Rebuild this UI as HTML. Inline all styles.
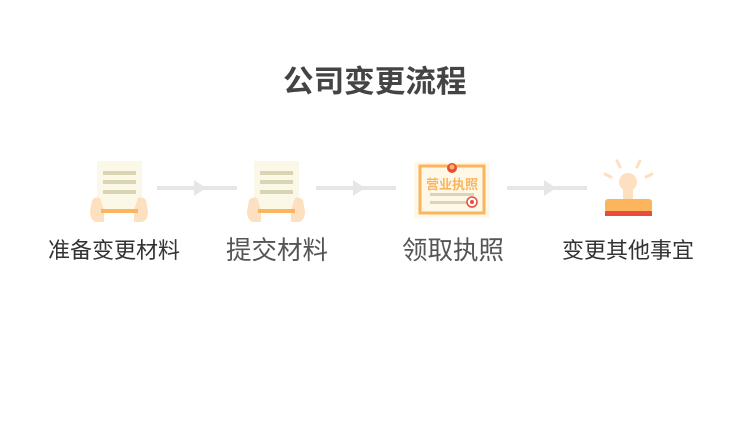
<!DOCTYPE html>
<html><head><meta charset="utf-8"><style>
body{margin:0;width:751px;height:430px;background:#fff;position:relative;overflow:hidden;font-family:"Liberation Sans","Noto Sans CJK SC",sans-serif}
.t{position:absolute;white-space:nowrap;line-height:1}
</style></head><body>
<div class="t" style="left:283px;top:67px;font-size:30.6px;font-weight:bold;color:#444">公司变更流程</div>
<svg width="751" height="430" style="position:absolute;left:0;top:0">
<g id="doc">
<rect x="97" y="161" width="45" height="52" fill="#fcf8e8"/>
<rect x="103" y="171" width="33" height="4" fill="#d8d4b4"/>
<rect x="103" y="180" width="33" height="4" fill="#d8d4b4"/>
<rect x="103" y="190" width="33" height="4" fill="#d8d4b4"/>
<path d="M92 200 Q96 196 100 198 L104 210 L104 222 L96 222 Q90 220 90 212 Z" fill="#fde0bf"/>
<path d="M146 200 Q142 196 138 198 L134 210 L134 222 L142 222 Q148 220 148 212 Z" fill="#fde0bf"/>
<rect x="101" y="209" width="37" height="4" fill="#fcb55c"/>
</g>
<use href="#doc" x="157"/>
<g fill="#e6e6e6">
<rect x="157" y="186" width="80" height="4"/><path d="M194 180 L206 188 L194 196Z"/>
<rect x="316" y="186" width="80" height="4"/><path d="M353 180 L365 188 L353 196Z"/>
<rect x="507" y="186" width="80" height="4"/><path d="M544 180 L556 188 L544 196Z"/>
</g>
<rect x="414" y="162" width="76" height="56" fill="#fdf8e8"/>
<rect x="420" y="166" width="64" height="47" fill="none" stroke="#fcb55c" stroke-width="3"/>
<circle cx="452" cy="168" r="5" fill="#e84c3d"/>
<circle cx="452" cy="167" r="2.5" fill="#fcb55c"/>
<text x="452" y="189" font-size="13" font-weight="bold" fill="#fcb55c" text-anchor="middle" font-family="Noto Sans CJK SC,sans-serif">营业执照</text>
<rect x="430" y="193" width="44" height="3" fill="#d8d4b4"/>
<rect x="430" y="201" width="38" height="3" fill="#d8d4b4"/>
<circle cx="472" cy="202" r="5" fill="#fff" stroke="#e84c3d" stroke-width="1.5"/>
<circle cx="472" cy="202" r="2" fill="#e84c3d"/>
<g stroke="#fde0bf" stroke-width="3" stroke-linecap="round">
<line x1="617" y1="161" x2="620" y2="167"/><line x1="640" y1="161" x2="637" y2="167"/>
<line x1="605" y1="174" x2="611" y2="177"/><line x1="652" y1="174" x2="646" y2="177"/>
</g>
<circle cx="628" cy="182" r="9" fill="#fde0bf"/>
<rect x="623" y="186" width="10" height="14" fill="#fde0bf"/>
<rect x="605" y="199" width="47" height="13" rx="3" fill="#fcb55c"/>
<rect x="605" y="211" width="47" height="5" fill="#e84c3d"/>
</svg>
<div class="t" style="left:48px;top:240px;font-size:22px;color:#333">准备变更材料</div>
<div class="t" style="left:226px;top:239px;font-size:25.5px;color:#555">提交材料</div>
<div class="t" style="left:402px;top:239px;font-size:25.5px;color:#555">领取执照</div>
<div class="t" style="left:562px;top:240px;font-size:22px;color:#333">变更其他事宜</div>
</body></html>
